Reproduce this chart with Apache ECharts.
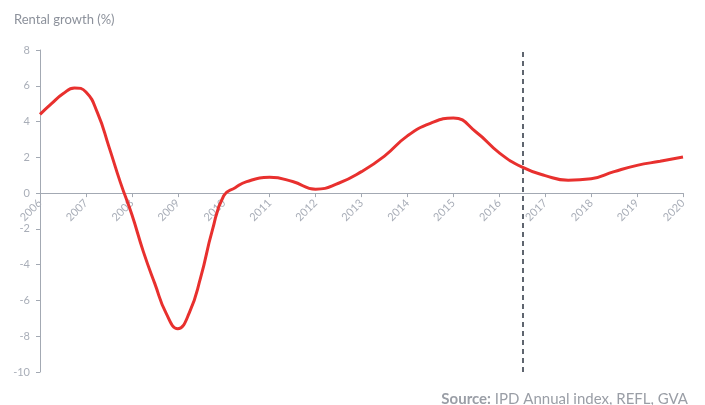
<!DOCTYPE html>
<html>
<head>
<meta charset="utf-8">
<style>
  html, body { margin: 0; padding: 0; background: #fff; }
  #chart { width: 705px; height: 405px; }
</style>
<script src="https://cdn.jsdelivr.net/npm/echarts@6/dist/echarts.min.js"></script>
</head>
<body>
<div id="chart"></div>
<script>
// values (year, rental growth %)
var years = [2006, 2006.25, 2006.5, 2006.75, 2007, 2007.25, 2007.5, 2007.75, 2008, 2008.25, 2008.5, 2008.75, 2009, 2009.25, 2009.5, 2009.75, 2010, 2010.25, 2010.5, 2011, 2011.5, 2012, 2012.5, 2013, 2013.5, 2014, 2014.5, 2015, 2015.5, 2016, 2016.5, 2017, 2017.5, 2018, 2018.5, 2019, 2019.5, 2020];
var growth = [4.4, 5.0, 5.55, 5.88, 5.65, 4.5, 2.6, 0.6, -1.2, -3.27, -5.06, -6.74, -7.58, -6.7, -4.7, -2.1, -0.15, 0.3, 0.64, 0.88, 0.65, 0.22, 0.55, 1.2, 2.07, 3.2, 3.9, 4.2, 3.4, 2.25, 1.45, 0.98, 0.72, 0.8, 1.2, 1.55, 1.78, 2.02];
var forecastStart = 2016.5;
var yTicks = { min: -10, max: 8, interval: 2 };

var points = [];
for (var i = 0; i < years.length; i++) {
	points.push([years[i], growth[i]]);
}

var labelColor = '#a9aeb8';
var axisColor = '#a3a9b3';
var gridH = 405 - 50 - 33;

var chart = echarts.init(document.getElementById('chart'));
var option = {
	animation: false,
	title: [
		{
			text: 'Rental growth (%)',
			left: 9,
			top: 8,
			textStyle: { color: '#8c919b', fontSize: 13, fontWeight: 'normal', fontFamily: 'Lato' }
		},
		{
			text: '{b|Source:} IPD Annual index, REFL, GVA',
			right: 12,
			top: 387,
			textStyle: {
				color: '#9a9ea6', fontSize: 15, fontWeight: 'normal', fontFamily: 'Lato',
				rich: { b: { fontWeight: 'bold', fontSize: 15, color: '#9a9ea6', fontFamily: 'Lato' } }
			}
		}
	],
	grid: { left: 40, right: 22, top: 50, bottom: 33 },
	xAxis: {
		type: 'value',
		min: 2006,
		max: 2020,
		interval: 1,
		position: 'bottom',
		// pull the axis up so it sits on y = 0
		offset: -gridH * (0 - yTicks.min) / (yTicks.max - yTicks.min),
		splitLine: { show: false },
		axisLine: { onZero: false, lineStyle: { color: axisColor, width: 1 } },
		axisTick: { show: true, length: 4, lineStyle: { color: axisColor } },
		axisLabel: {
			rotate: 45,
			color: labelColor,
			fontSize: 11,
			fontFamily: 'Lato',
			margin: 8,
			formatter: function (v) { return String(v); }
		}
	},
	yAxis: {
		type: 'value',
		min: yTicks.min,
		max: yTicks.max,
		interval: yTicks.interval,
		splitLine: { show: false },
		axisLine: { show: true, onZero: false, lineStyle: { color: axisColor, width: 1 } },
		axisTick: { show: true, length: 4, lineStyle: { color: axisColor } },
		axisLabel: { color: labelColor, fontSize: 11, fontFamily: 'Lato', margin: 10 }
	},
	series: [
		{
			type: 'line',
			data: points,
			smooth: 0.5,
			showSymbol: false,
			lineStyle: { color: '#e8302e', width: 3 },
			markLine: {
				silent: true,
				symbol: ['none', 'none'],
				label: { show: false },
				lineStyle: { color: '#2b3340', width: 1.5, type: [5, 4] },
				data: [{ xAxis: forecastStart }]
			}
		}
	]
};
chart.setOption(option);
</script>
</body>
</html>
